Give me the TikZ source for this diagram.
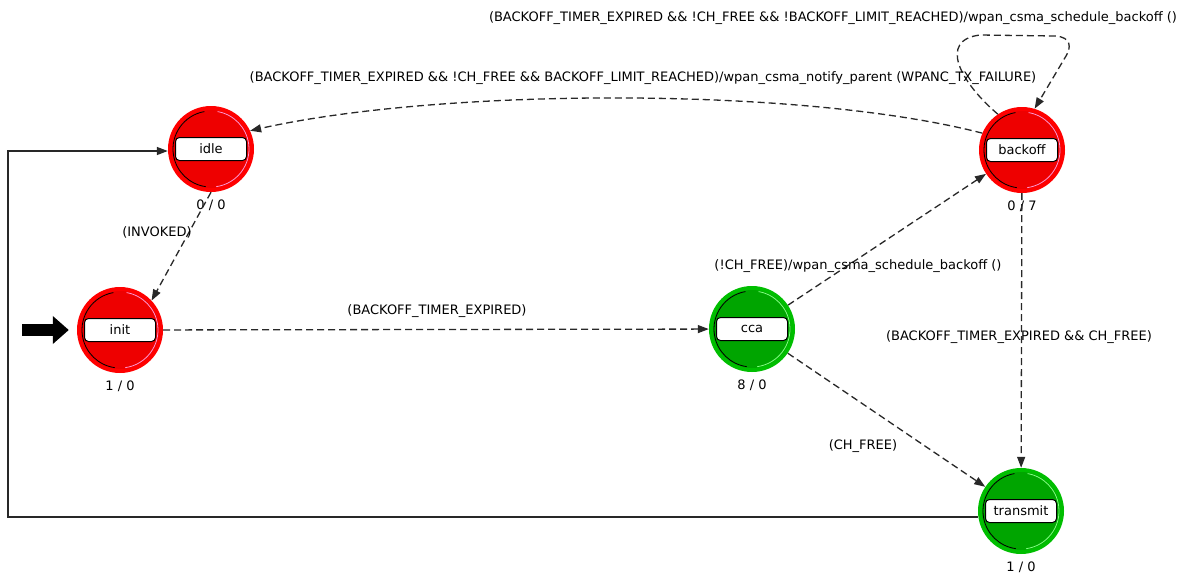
\documentclass[tikz,border=0pt]{standalone}
\usepackage{fontspec}
\setmainfont{DejaVu Sans}
\usetikzlibrary{arrows.meta}
\definecolor{redring}{RGB}{255,0,0}
\definecolor{redfill}{RGB}{238,0,0}
\definecolor{redhl}{RGB}{255,150,210}
\definecolor{greenring}{RGB}{0,190,0}
\definecolor{greenfill}{RGB}{0,165,0}
\definecolor{greenhl}{RGB}{130,255,130}
\definecolor{edgecol}{RGB}{40,40,40}
\tikzset{
  lbl/.style={draw=black, line width=1pt, fill=white, rounded corners=4pt,
    minimum width=71pt, minimum height=23pt, inner sep=0pt, font=\fontsize{13}{15}\selectfont},
  cnt/.style={inner sep=0pt, font=\fontsize{13}{15}\selectfont},
  elbl/.style={inner sep=0pt, font=\fontsize{13}{15}\selectfont},
  trans/.style={draw=edgecol, line width=1.3pt, dash pattern=on 7pt off 4pt,
    -{Triangle[length=11pt,width=8pt]}},
  solidtrans/.style={draw=edgecol, line width=1.3pt, -{Triangle[length=11pt,width=8pt]}},
}
\newcommand\drawstate[5]{%
  \node[circle, minimum size=86pt, inner sep=0pt, fill=#4ring] (#1) at (#2) {};
  \fill[#4fill] (#1.center) circle (39pt);
  \draw[black, line width=0.8pt] ([shift={(100:38pt)}]#1.center) arc (100:262:38pt);
  \draw[#4hl, line width=0.8pt] ([shift={(-82:38pt)}]#1.center) arc (-82:80:38pt);
  \node[lbl] (#1-l) at (#1.center) {#3};
  \node[cnt] (#1-c) at ([yshift=-56pt]#1.center) {#5};
}
\begin{document}
\begin{tikzpicture}[x=1pt, y=-1pt]
\useasboundingbox[fill=white] (0,0) rectangle (1180,574);

\drawstate{idle}{211,149}{idle}{red}{0 / 0}
\drawstate{init}{120,330}{init}{red}{1 / 0}
\drawstate{cca}{752,329}{cca}{green}{8 / 0}
\drawstate{backoff}{1022,150}{backoff}{red}{0 / 7}
\drawstate{transmit}{1021,511}{transmit}{green}{1 / 0}

% initial arrow
\coordinate (initstart) at (22,330);
\draw[black, line width=12pt, -{Triangle[length=16pt,width=27pt]}] (initstart) -- ([xshift=-8pt]init.west);

% transitions
\draw[trans] (idle.south) -- (init.43);
\draw[trans] (init) -- (cca);
\draw[trans] (cca) -- (backoff);
\draw[trans] (cca) -- (transmit);
\draw[trans] (backoff) -- (transmit);
\draw[trans] (backoff.157) .. controls (800,86) and (440,88) .. (idle.25);
\draw[trans] (backoff.124) .. controls (960,82) and (938,40) .. (980,35)
   -- (1055,36) .. controls (1072,37) and (1071,48) .. (1066,56) -- (backoff.73);

\coordinate (lc1) at (8,517);
\coordinate (lc2) at (8,151);
\draw[solidtrans] ([yshift=-6pt]transmit.west) -- (lc1) -- (lc2) -- ([yshift=-2pt]idle.west);

% labels
\node[elbl] (l1) at (833,18) {(BACKOFF\_TIMER\_EXPIRED \&\& !CH\_FREE \&\& !BACKOFF\_LIMIT\_REACHED)/wpan\_csma\_schedule\_backoff ()};
\node[elbl] (l2) at (643,78) {(BACKOFF\_TIMER\_EXPIRED \&\& !CH\_FREE \&\& BACKOFF\_LIMIT\_REACHED)/wpan\_csma\_notify\_parent (WPANC\_TX\_FAILURE)};
\node[elbl] (l3) at (157,232) {(INVOKED)};
\node[elbl] (l4) at (437,311) {(BACKOFF\_TIMER\_EXPIRED)};
\node[elbl] (l5) at (858,266) {(!CH\_FREE)/wpan\_csma\_schedule\_backoff ()};
\node[elbl] (l6) at (1019,337) {(BACKOFF\_TIMER\_EXPIRED \&\& CH\_FREE)};
\node[elbl] (l7) at (863,446) {(CH\_FREE)};
\end{tikzpicture}
\end{document}
